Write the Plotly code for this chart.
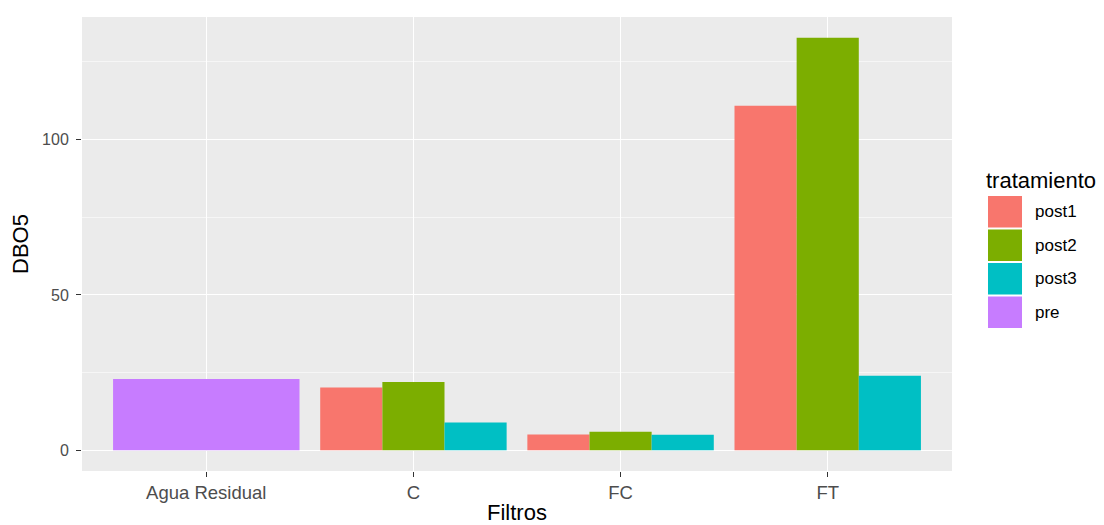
import plotly.graph_objects as go

categories = ["Agua Residual", "C", "FC", "FT"]
treatments = ["post1", "post2", "post3", "pre"]
colors = ["#F8766D", "#7CAE00", "#00BFC4", "#C77CFF"]
values = {
    "post1": [None, 20.2, 5.1, 110.9],
    "post2": [None, 22.0, 6.0, 132.8],
    "post3": [None, 9.0, 5.0, 24.0],
    "pre":   [23.0, None, None, None],
}
y_ticks = [0, 50, 100]

# page body has an 8px default margin; work in reference pixel coords
OFF = 8
W, H = 1104 - OFF, 525 - OFF
L, R, T, B = 82 - OFF, 952 - OFF, 17 - OFF, 471 - OFF

def px(xp):
    return (xp - OFF - L) / (R - L)

def py(yp):
    return (B - (yp - OFF)) / (B - T)

fig = go.Figure()

# position dodge (width 0.9), like ggplot
dodge = 0.9
present = [[t for t in treatments if values[t][i] is not None] for i in range(len(categories))]
for t, c in zip(treatments, colors):
    xs, ys, ws = [], [], []
    for i in range(len(categories)):
        v = values[t][i]
        if v is None:
            continue
        n = len(present[i])
        k = present[i].index(t)
        w = dodge / n
        xs.append(i - dodge / 2 + w * (k + 0.5))
        ys.append(v)
        ws.append(w)
    fig.add_trace(go.Bar(x=xs, y=ys, width=ws, name=t, marker=dict(color=c, line=dict(width=0)),
                         showlegend=False))

ymax = max(v for t in treatments for v in values[t] if v is not None)
pad = ymax * 0.05

FONT = "Liberation Sans, Arial, sans-serif"
fig.update_layout(
    width=W, height=H,
    margin=dict(l=L, r=W - R, t=T, b=H - B, autoexpand=False),
    paper_bgcolor="white",
    plot_bgcolor="#EBEBEB",
    barmode="overlay",
    font=dict(family=FONT),
    xaxis=dict(
        range=[-0.6, len(categories) - 1 + 0.6],
        tickvals=list(range(len(categories))),
        ticktext=categories,
        showgrid=True, gridcolor="white", gridwidth=1.4,
        zeroline=False,
        ticks="outside", ticklen=5, tickcolor="#333333", tickwidth=1,
        tickfont=dict(size=18.5, color="#4D4D4D"),
        title=dict(text="Filtros", font=dict(size=22, color="black"), standoff=5),
        automargin=False,
    ),
    yaxis=dict(
        range=[-pad, ymax + pad],
        tickvals=y_ticks,
        showgrid=True, gridcolor="white", gridwidth=1.4,
        minor=dict(dtick=25, tick0=25, showgrid=True, gridcolor="#F6F6F6", gridwidth=0.7),
        zeroline=False,
        ticks="outside", ticklen=5, tickcolor="#333333", tickwidth=1,
        ticklabelstandoff=4,
        tickfont=dict(size=16, color="#4D4D4D"),
        title=dict(text="DBO5", font=dict(size=22, color="black"), standoff=8),
        automargin=False,
    ),
)

# legend drawn like ggplot's guide
fig.add_annotation(text="tratamiento", xref="paper", yref="paper", x=px(984), y=py(180),
                   xanchor="left", yanchor="middle", showarrow=False,
                   font=dict(size=22, color="black"))
key_top = 195
key_h = 33.5
for j, (t, c) in enumerate(zip(treatments, colors)):
    y0 = key_top + j * key_h
    fig.add_shape(type="rect", xref="paper", yref="paper",
                  x0=px(988), x1=px(1022), y0=py(y0 + 1), y1=py(y0 + key_h - 1),
                  fillcolor=c, line=dict(width=0))
    fig.add_annotation(text=t, xref="paper", yref="paper", x=px(1033), y=py(y0 + key_h / 2),
                       xanchor="left", yanchor="middle", showarrow=False,
                       font=dict(size=17, color="black"))

fig.write_html("out.html")
